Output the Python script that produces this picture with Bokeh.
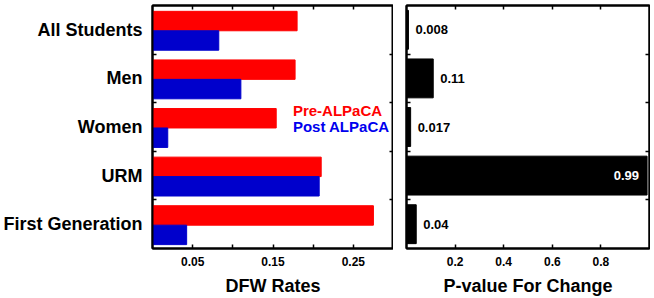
from bokeh.plotting import figure
from bokeh.layouts import row
from bokeh.models import Range1d, FixedTicker, LinearAxis, Label, ColumnDataSource
from bokeh.embed import file_html
from bokeh.resources import INLINE
from bokeh.core.properties import value

categories = ["All Students", "Men", "Women", "URM", "First Generation"]
pre_alpaca = [0.180, 0.1775, 0.154, 0.210, 0.275]
post_alpaca = [0.0825, 0.110, 0.019, 0.2075, 0.0425]
p_values = [0.008, 0.11, 0.017, 0.99, 0.04]
p_labels = ["0.008", "0.11", "0.017", "0.99", "0.04"]
series_names = ["Pre-ALPaCA", "Post ALPaCA"]
dfw_ticks = [0.05, 0.15, 0.25]
dfw_minor = [0.10, 0.20]
p_ticks = [0.2, 0.4, 0.6, 0.8]

FONT = "Liberation Sans"
RED = "#ff0000"
BLUE = "#0000cc"
BLUE_TEXT = "#0000ee"
n = len(categories)
centers = [n - 1 - i + 0.5 for i in range(n)]
bounds = [1, 2, 3, 4]
shift = 0.02

TICK = dict(major_tick_in=4, major_tick_out=0, minor_tick_in=4, minor_tick_out=0,
            axis_line_width=2, axis_line_color="black",
            major_tick_line_width=1.5, minor_tick_line_width=1.5)


def style(p, show_ylabels, xticks, xminor):
    p.xgrid.visible = False
    p.ygrid.visible = False
    p.outline_line_color = "black"
    p.outline_line_width = 2
    for ax in p.xaxis + p.yaxis:
        for k, v in TICK.items():
            setattr(ax, k, v)
        ax.major_label_text_font = FONT
        ax.major_label_text_font_style = "bold"
        ax.major_label_text_color = "black"
        ax.axis_label_text_font = FONT
        ax.axis_label_text_font_style = "bold"
        ax.axis_label_text_font_size = "18px"
        ax.axis_label_text_color = "black"
    xa = p.xaxis[0]
    xa.ticker = FixedTicker(ticks=xticks, minor_ticks=xminor)
    xa.major_label_text_font_size = "12px"
    xa.major_label_standoff = 8
    xa.axis_label_standoff = 7
    ya = p.yaxis[0]
    if show_ylabels:
        ya.ticker = FixedTicker(ticks=centers, minor_ticks=bounds)
        ya.major_tick_line_color = None
        ya.major_label_overrides = {c: lab for c, lab in zip(centers, categories)}
        ya.major_label_text_font_size = "18px"
        ya.major_label_standoff = 10
    else:
        ya.ticker = FixedTicker(ticks=[], minor_ticks=bounds)
    # mirrored tick marks on top and right (no labels)
    top = LinearAxis(ticker=FixedTicker(ticks=[], minor_ticks=sorted(xticks + xminor)), **TICK)
    right = LinearAxis(ticker=FixedTicker(ticks=[], minor_ticks=bounds), **TICK)
    p.add_layout(top, "above")
    p.add_layout(right, "right")


H = 298
# Left figure: DFW rates
p1 = figure(width=393, height=H, x_range=Range1d(0, 0.30), y_range=Range1d(0, 5),
            output_backend="svg", toolbar_location=None,
            min_border_left=151, min_border_right=0, min_border_top=5, min_border_bottom=0)
src1 = ColumnDataSource(dict(
    y_pre=[c + 0.2 - shift for c in centers],
    y_post=[c - 0.2 - shift for c in centers],
    pre=pre_alpaca, post=post_alpaca))
p1.hbar(y="y_pre", right="pre", left=0, height=0.4, source=src1, fill_color=RED, line_color=RED)
p1.hbar(y="y_post", right="post", left=0, height=0.4, source=src1, fill_color=BLUE, line_color=BLUE)
p1.xaxis.axis_label = "DFW Rates"
style(p1, True, dfw_ticks, dfw_minor)
p1.add_layout(Label(x=0.1748, y=2.84, text=series_names[0], text_color=RED,
                    text_font=FONT, text_font_style="bold", text_font_size="15px",
                    text_baseline="middle"))
p1.add_layout(Label(x=0.1748, y=2.51, text=series_names[1], text_color=BLUE_TEXT,
                    text_font=FONT, text_font_style="bold", text_font_size="15px",
                    text_baseline="middle"))

# Right figure: p-values
p2 = figure(width=257, height=H, x_range=Range1d(0, 1.0), y_range=Range1d(0, 5),
            output_backend="svg", toolbar_location=None,
            min_border_left=13, min_border_right=1, min_border_top=5, min_border_bottom=0)
src2 = ColumnDataSource(dict(y=list(centers), p=p_values, lab=p_labels))
p2.hbar(y="y", right="p", left=0, height=0.8, source=src2, fill_color="black", line_color="black")
out_idx = [i for i, v in enumerate(p_values) if v < 0.5]
in_idx = [i for i, v in enumerate(p_values) if v >= 0.5]
src_out = ColumnDataSource(dict(x=[p_values[i] for i in out_idx], y=[centers[i] for i in out_idx],
                                t=[p_labels[i] for i in out_idx]))
src_in = ColumnDataSource(dict(x=[p_values[i] for i in in_idx], y=[centers[i] for i in in_idx],
                               t=[p_labels[i] for i in in_idx]))
p2.text(x="x", y="y", text="t", source=src_out, x_offset=7, text_align="left",
        text_baseline="middle", text_font=value(FONT), text_font_style="bold",
        text_font_size="13px", text_color="black")
p2.text(x="x", y="y", text="t", source=src_in, x_offset=-8, text_align="right",
        text_baseline="middle", text_font=value(FONT), text_font_style="bold",
        text_font_size="13px", text_color="white")
p2.xaxis.axis_label = "P-value For Change"
style(p2, False, p_ticks, [])

layout = row(p1, p2)
open("out.html", "w").write(file_html(layout, INLINE))
